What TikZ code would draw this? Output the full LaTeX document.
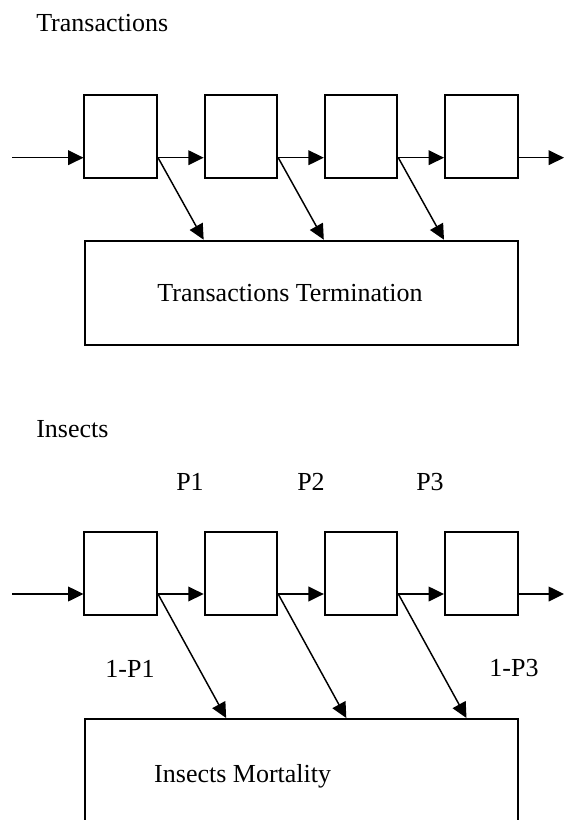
\documentclass[tikz,border=0pt]{standalone}
\usepackage{fontspec}
\setmainfont{Liberation Serif}
\usetikzlibrary{arrows.meta,calc}

\begin{document}
\begin{tikzpicture}[x=0.75pt,y=-0.75pt,
        cell/.style={draw,line width=1.5pt,minimum width=54.4pt,minimum height=62pt,inner sep=0pt},
        sink/.style={draw,line width=1.5pt,minimum width=324.6pt,inner sep=0pt},
        flow/.style={line width=1.1pt,-{Triangle[length=11.5pt,width=11pt]}},
        lbl/.style={font=\fontsize{19.5}{23}\selectfont,inner sep=0pt}]
        \clip (0,0) rectangle (565,820);
        % transactions
        \node[lbl,anchor=base west] (ttitle) at (36,32) {Transactions};
        \foreach \i in {1,...,4}
            \node[cell] (t\i) at ({120.75+120.17*(\i-1)},136.35) {};
        \node[sink,minimum height=78.2pt] (tend) at (301.1,292.85) {};
        \node[lbl,anchor=base] (tendlbl) at (290,301.5) {Transactions Termination};
        \coordinate (tin) at (12,157.7);
        \coordinate (tout) at (564,157.7);
        \draw[flow] (tin) -- (t1.west |- tin);
        \foreach \i/\j in {1/2,2/3,3/4} {
            \draw[flow] (t\i.east |- tin) -- (t\j.west |- tin);
            \draw[flow] (t\i.east |- tin) -- (t\j.west |- tend.north);
        }
        \draw[flow] (t4.east |- tin) -- (tout);

        % insects
        \node[lbl,anchor=base west] (ititle) at (36,437) {Insects};
        \foreach \i/\px in {1/190,2/311,3/430}
            \node[lbl,anchor=base] (p\i) at (\px,490) {P\i};
        \foreach \i in {1,...,4}
            \node[cell,minimum height=62.25pt] (i\i) at ({120.75+120.17*(\i-1)},573.5) {};
        \node[sink,minimum height=150pt] (imort) at (301.1,819) {};
        \node[lbl,anchor=base] (imortlbl) at (242.7,782) {Insects Mortality};
        \node[lbl,anchor=base] (q1) at (130,677) {1-P1};
        \node[lbl,anchor=base] (q3) at (514,676) {1-P3};
        \coordinate (iin) at (12,594);
        \coordinate (iout) at (564,594);
        \draw[flow] (iin) -- (i1.west |- iin);
        \foreach \i/\j in {1/2,2/3,3/4} {
            \draw[flow] (i\i.east |- iin) -- (i\j.west |- iin);
            \draw[flow] (i\i.east |- iin) -- ($(i\j.west |- imort.north)+(22.5,0)$);
        }
        \draw[flow] (i4.east |- iin) -- (iout);
\end{tikzpicture}
\end{document}
